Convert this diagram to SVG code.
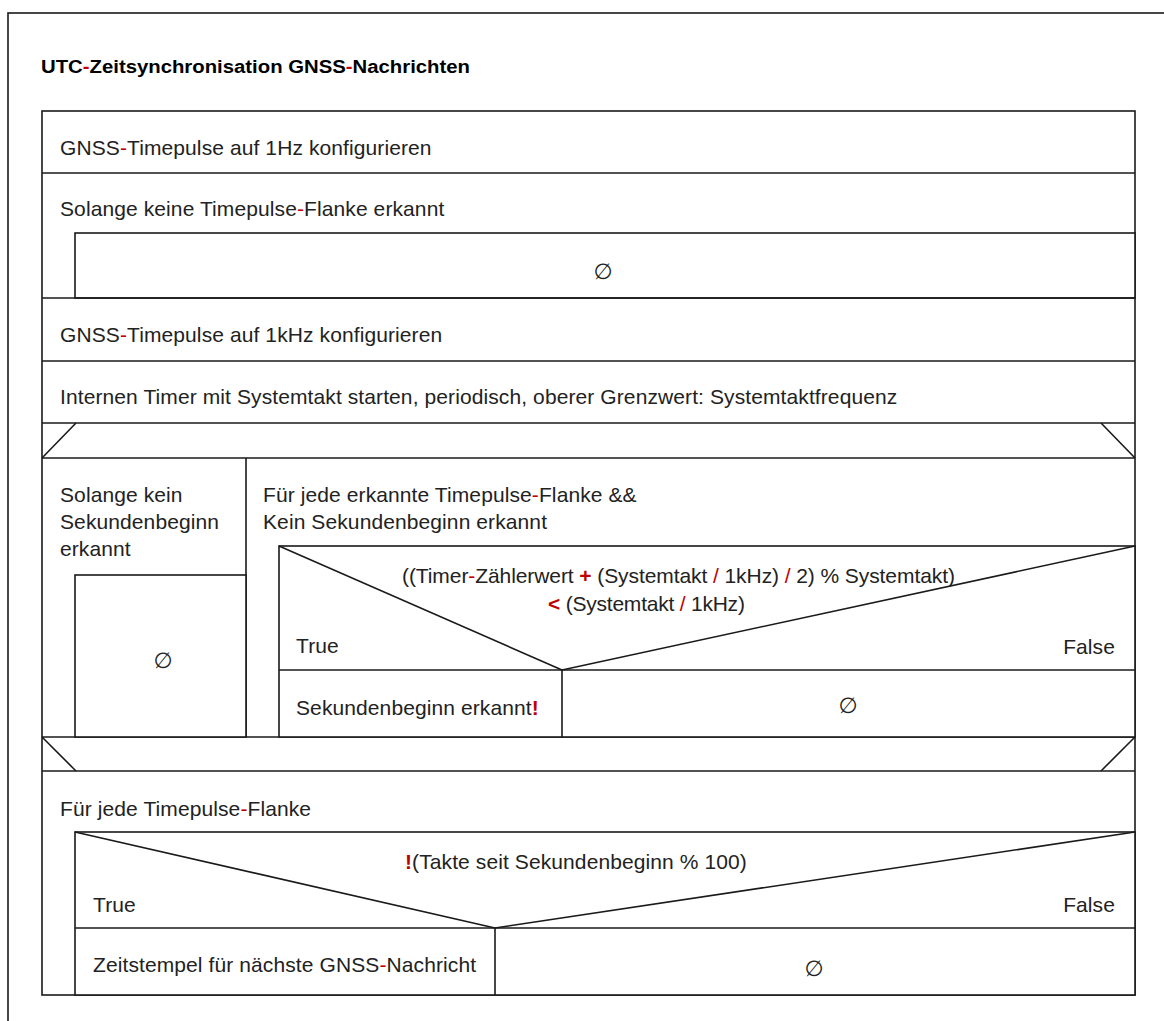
<svg xmlns="http://www.w3.org/2000/svg" width="1164" height="1021" viewBox="0 0 1164 1021">
<style>
.ln{fill:none;stroke:#1a1a1a;stroke-width:1.6}
.bx{fill:#fff;stroke:#1a1a1a;stroke-width:1.6}
.t{font-family:"Liberation Sans",Arial,sans-serif;font-size:21px;letter-spacing:0.1px;fill:#222}
.ttl{font-family:"Liberation Sans",Arial,sans-serif;font-size:18px;font-weight:bold;fill:#000}
.r{fill:#c00000}
.rb{fill:#c00000;font-weight:bold}
.e{font-family:"DejaVu Sans",sans-serif;font-size:22px;fill:#222;text-anchor:middle}
</style>
<rect x="0" y="0" width="1164" height="1021" fill="#fff"/>
<rect x="8" y="13" width="1200" height="1100" class="ln"/>
<g id="title">
<text class="ttl" x="41" y="73" textLength="429" lengthAdjust="spacingAndGlyphs">UTC<tspan class="r">-</tspan>Zeitsynchronisation GNSS<tspan class="r">-</tspan>Nachrichten</text>
</g>
<g id="frame">
<rect x="42" y="111" width="1093" height="884" class="bx"/>
</g>
<g id="step1">
<line x1="42" y1="173" x2="1135" y2="173" class="ln"/>
<text class="t" x="60" y="155">GNSS<tspan class="r">-</tspan>Timepulse auf 1Hz konfigurieren</text>
</g>
<g id="loop1">
<text class="t" x="60" y="216">Solange keine Timepulse<tspan class="r">-</tspan>Flanke erkannt</text>
<rect x="75" y="233" width="1060" height="65" class="bx"/>
<text class="e" x="603" y="279">∅</text>
</g>
<g id="step2">
<line x1="42" y1="298" x2="1135" y2="298" class="ln"/>
<text class="t" x="60" y="342">GNSS<tspan class="r">-</tspan>Timepulse auf 1kHz konfigurieren</text>
</g>
<g id="step3">
<line x1="42" y1="361" x2="1135" y2="361" class="ln"/>
<text class="t" x="60" y="404">Internen Timer mit Systemtakt starten, periodisch, oberer Grenzwert: Systemtaktfrequenz</text>
</g>
<g id="parallel">
<line x1="42" y1="423" x2="1135" y2="423" class="ln"/>
<line x1="42" y1="458" x2="1135" y2="458" class="ln"/>
<line x1="42" y1="458" x2="76" y2="423" class="ln"/>
<line x1="1101" y1="423" x2="1135" y2="458" class="ln"/>
<line x1="246" y1="458" x2="246" y2="737" class="ln"/>
<line x1="42" y1="737" x2="1135" y2="737" class="ln"/>
<line x1="42" y1="771" x2="1135" y2="771" class="ln"/>
<line x1="42" y1="737" x2="76" y2="771" class="ln"/>
<line x1="1135" y1="737" x2="1101" y2="771" class="ln"/>
</g>
<g id="loop2">
<text class="t" x="60" y="502">Solange kein</text>
<text class="t" x="60" y="529">Sekundenbeginn</text>
<text class="t" x="60" y="556">erkannt</text>
<rect x="75" y="575" width="171" height="162" class="bx"/>
<text class="e" x="163" y="668">∅</text>
</g>
<g id="loop3">
<text class="t" x="263" y="502">Für jede erkannte Timepulse<tspan class="r">-</tspan>Flanke &amp;&amp;</text>
<text class="t" x="263" y="529">Kein Sekundenbeginn erkannt</text>
</g>
<g id="if1">
<rect x="279" y="546" width="856" height="191" class="bx"/>
<line x1="279" y1="670" x2="1135" y2="670" class="ln"/>
<line x1="279" y1="546" x2="562" y2="670" class="ln"/>
<line x1="562" y1="670" x2="1135" y2="546" class="ln"/>
<line x1="562" y1="670" x2="562" y2="737" class="ln"/>
<text class="t" x="402" y="583" textLength="553">((Timer<tspan class="r">-</tspan>Zählerwert <tspan class="rb">+</tspan> (Systemtakt <tspan class="r">/</tspan> 1kHz) <tspan class="r">/</tspan> 2) % Systemtakt)</text>
<text class="t" x="548" y="611" textLength="197"><tspan class="rb">&lt;</tspan> (Systemtakt <tspan class="r">/</tspan> 1kHz)</text>
<text class="t" x="296" y="653">True</text>
<text class="t" x="1115" y="654" text-anchor="end">False</text>
<text class="t" x="296" y="715">Sekundenbeginn erkannt<tspan class="rb">!</tspan></text>
<text class="e" x="848" y="713">∅</text>
</g>
<g id="loop4">
<text class="t" x="60" y="816">Für jede Timepulse<tspan class="r">-</tspan>Flanke</text>
<rect x="75" y="832" width="1060" height="163" class="bx"/>
</g>
<g id="if2">
<line x1="75" y1="928" x2="1135" y2="928" class="ln"/>
<line x1="75" y1="832" x2="495" y2="928" class="ln"/>
<line x1="495" y1="928" x2="1135" y2="832" class="ln"/>
<line x1="495" y1="928" x2="495" y2="995" class="ln"/>
<text class="t" x="405" y="869"><tspan class="rb">!</tspan>(Takte seit Sekundenbeginn % 100)</text>
<text class="t" x="93" y="912">True</text>
<text class="t" x="1115" y="912" text-anchor="end">False</text>
<text class="t" x="93" y="972">Zeitstempel für nächste GNSS<tspan class="r">-</tspan>Nachricht</text>
<text class="e" x="814" y="976">∅</text>
</g>
</svg>
